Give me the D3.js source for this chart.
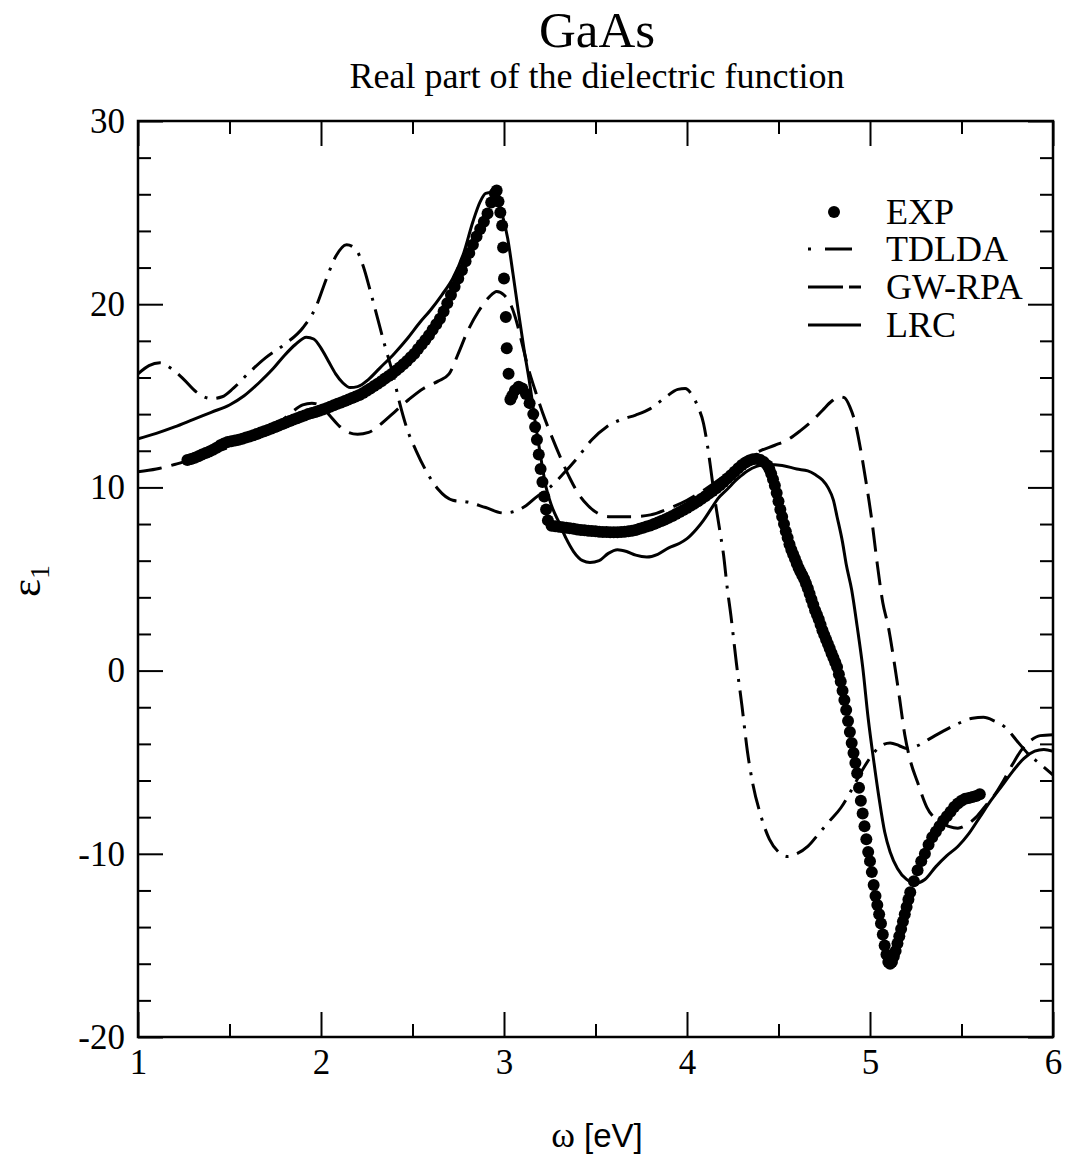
<!DOCTYPE html>
<html><head><meta charset="utf-8">
<script src="https://cdn.jsdelivr.net/npm/d3@7"></script>
<style>
body{margin:0;background:#fff;}
svg{display:block;}
</style></head>
<body>
<svg id="chart" width="1068" height="1165"></svg>
<script>
// ---------- data ----------
const title = "GaAs";
const subtitle = "Real part of the dielectric function";
const xTicks = [1, 2, 3, 4, 5, 6];
const yTicks = [-20, -10, 0, 10, 20, 30];
const seriesNames = ["EXP", "TDLDA", "GW-RPA", "LRC"];

const expData = [
[1.27,11.5],[1.29,11.55],[1.31,11.62],[1.33,11.7],[1.35,11.8],[1.37,11.88],[1.39,11.96],[1.41,12.05],[1.43,12.17],[1.45,12.3],
[1.47,12.4],[1.49,12.48],[1.51,12.52],[1.53,12.56],[1.55,12.6],[1.57,12.65],[1.59,12.72],[1.61,12.78],[1.63,12.85],[1.65,12.92],
[1.67,13.0],[1.69,13.07],[1.71,13.14],[1.73,13.22],[1.75,13.3],[1.77,13.38],[1.79,13.46],[1.81,13.54],[1.83,13.62],[1.85,13.7],
[1.87,13.78],[1.89,13.86],[1.91,13.93],[1.93,14.0],[1.95,14.06],[1.97,14.12],[1.99,14.18],[2.01,14.25],[2.03,14.32],[2.05,14.4],
[2.07,14.48],[2.09,14.56],[2.11,14.64],[2.13,14.72],[2.15,14.8],[2.17,14.88],[2.19,14.96],[2.21,15.05],[2.23,15.15],[2.25,15.27],
[2.27,15.4],[2.29,15.53],[2.31,15.66],[2.33,15.8],[2.35,15.94],[2.37,16.08],[2.39,16.22],[2.41,16.38],[2.43,16.55],[2.45,16.72],
[2.47,16.9],[2.49,17.1],[2.51,17.3],[2.53,17.55],[2.55,17.8],[2.57,18.05],[2.59,18.3],[2.61,18.6],[2.63,18.9],[2.65,19.2],
[2.67,19.6],[2.69,20.05],[2.71,20.5],[2.73,20.95],[2.75,21.4],[2.77,21.85],[2.79,22.35],[2.81,22.8],[2.83,23.25],[2.85,23.7],
[2.87,24.1],[2.89,24.5],[2.91,24.95],[2.93,25.55],[2.95,26.05],[2.96,26.2],
[2.97,25.6],[2.98,25.0],[2.99,24.3],[2.995,23.1],[3.0,21.4],[3.01,19.3],[3.015,17.6],[3.025,16.2],[3.035,14.8],
[3.045,15.0],[3.06,15.3],[3.08,15.5],[3.10,15.4],[3.12,15.1],[3.14,14.6],[3.16,14.0],[3.17,13.3],[3.18,12.6],[3.19,11.8],
[3.20,11.0],[3.21,10.3],[3.22,9.5],[3.23,8.8],[3.24,8.2],[3.26,7.9],
[3.28,7.88],[3.30,7.85],[3.32,7.82],[3.34,7.8],[3.36,7.77],[3.38,7.74],[3.40,7.7],[3.42,7.68],[3.44,7.66],[3.46,7.64],
[3.48,7.62],[3.50,7.6],[3.52,7.58],[3.54,7.57],[3.56,7.56],[3.58,7.55],[3.60,7.55],[3.62,7.55],[3.64,7.56],[3.66,7.58],
[3.68,7.6],[3.70,7.63],[3.72,7.68],[3.74,7.74],[3.76,7.8],[3.78,7.86],[3.80,7.92],[3.82,8.0],[3.84,8.08],[3.86,8.16],
[3.88,8.25],[3.90,8.34],[3.92,8.44],[3.94,8.55],[3.96,8.66],[3.98,8.77],[4.00,8.88],[4.02,9.0],[4.04,9.12],[4.06,9.25],
[4.08,9.38],[4.10,9.52],[4.12,9.66],[4.14,9.8],[4.16,9.96],[4.18,10.12],[4.20,10.3],[4.22,10.48],[4.24,10.66],[4.26,10.85],
[4.28,11.05],[4.30,11.22],[4.32,11.36],[4.34,11.47],[4.36,11.54],[4.38,11.56],[4.40,11.5],[4.42,11.38],[4.44,11.2],[4.45,11.0],
[4.46,10.75],[4.47,10.45],[4.48,10.1],[4.49,9.7],[4.50,9.25],[4.51,8.8],[4.52,8.4],[4.53,8.0],[4.54,7.6],[4.55,7.25],
[4.56,6.9],[4.57,6.6],[4.58,6.35],[4.59,6.1],[4.60,5.85],[4.61,5.6],[4.62,5.4],[4.63,5.2],[4.64,5.0],[4.65,4.75],
[4.66,4.5],[4.67,4.2],[4.68,3.9],[4.69,3.6],[4.70,3.3],[4.71,3.05],[4.72,2.8],[4.73,2.5],[4.74,2.2],[4.75,1.95],
[4.76,1.7],[4.77,1.45],[4.78,1.2],[4.79,0.95],[4.80,0.7],[4.81,0.45],[4.82,0.2],[4.83,-0.2],[4.84,-0.6],[4.85,-1.1],
[4.86,-1.6],[4.87,-2.15],[4.88,-2.75],[4.89,-3.35],[4.90,-3.95],[4.91,-4.5],[4.92,-5.05],[4.93,-5.6],[4.94,-6.4],[4.95,-7.1],
[4.96,-7.8],[4.97,-8.5],[4.98,-9.2],[4.99,-9.9],[5.00,-10.4],[5.01,-11.0],[5.02,-11.7],[5.03,-12.3],[5.04,-12.8],[5.05,-13.3],
[5.06,-13.8],[5.07,-14.4],[5.08,-15.0],[5.09,-15.5],[5.10,-15.9],[5.11,-16.0],[5.12,-15.9],[5.13,-15.6],[5.14,-15.3],[5.15,-14.9],
[5.16,-14.5],[5.17,-14.1],[5.18,-13.7],[5.19,-13.3],[5.20,-12.9],[5.21,-12.5],[5.22,-12.1],[5.24,-11.5],[5.26,-10.9],[5.28,-10.4],
[5.30,-10.0],[5.32,-9.5],[5.34,-9.1],[5.36,-8.8],[5.38,-8.5],[5.40,-8.2],[5.42,-7.95],[5.44,-7.7],[5.46,-7.45],[5.48,-7.25],
[5.50,-7.1],[5.52,-7.0],[5.54,-6.95],[5.56,-6.9],[5.58,-6.85],[5.60,-6.75]
];

const tdldaData = [
[1.00,16.2],[1.06,16.65],[1.12,16.8],[1.18,16.5],[1.25,15.9],[1.32,15.2],[1.40,14.85],[1.46,14.95],[1.52,15.4],[1.60,16.2],
[1.70,17.1],[1.80,17.8],[1.90,18.7],[1.97,19.8],[2.03,21.4],[2.08,22.6],[2.14,23.25],[2.19,23.0],[2.23,22.1],[2.27,20.7],
[2.31,19.2],[2.35,17.7],[2.39,16.3],[2.43,14.6],[2.47,13.2],[2.52,12.0],[2.58,10.8],[2.64,9.9],[2.72,9.3],[2.80,9.2],
[2.90,8.9],[3.00,8.6],[3.06,8.7],[3.12,9.0],[3.18,9.5],[3.25,10.0],[3.32,10.7],[3.40,11.6],[3.48,12.6],[3.56,13.3],
[3.64,13.7],[3.72,13.95],[3.80,14.3],[3.88,14.9],[3.95,15.35],[3.99,15.4],[4.03,15.0],[4.06,14.4],[4.09,13.5],[4.11,12.4],
[4.13,11.0],[4.15,9.5],[4.18,7.6],[4.20,6.3],[4.22,4.5],[4.24,3.0],[4.27,0.4],[4.30,-1.9],[4.33,-4.4],[4.36,-6.2],
[4.40,-7.8],[4.45,-9.2],[4.50,-9.9],[4.55,-10.15],[4.60,-10.0],[4.66,-9.6],[4.72,-8.9],[4.78,-8.2],[4.84,-7.5],[4.90,-6.5],
[4.96,-5.4],[5.02,-4.5],[5.07,-4.05],[5.11,-3.95],[5.16,-4.1],[5.20,-4.25],[5.26,-4.1],[5.33,-3.7],[5.40,-3.3],[5.48,-2.9],
[5.56,-2.6],[5.62,-2.55],[5.68,-2.75],[5.74,-3.1],[5.80,-3.8],[5.87,-4.6],[5.93,-5.1],[6.00,-5.7]
];

const gwrpaData = [
[1.00,10.85],[1.10,11.0],[1.20,11.25],[1.30,11.55],[1.40,11.85],[1.50,12.2],[1.60,12.6],[1.70,13.1],[1.78,13.6],[1.84,14.1],
[1.90,14.5],[1.95,14.6],[2.00,14.45],[2.05,13.9],[2.10,13.35],[2.15,13.0],[2.20,12.9],[2.26,13.0],[2.32,13.4],[2.40,14.1],
[2.48,14.8],[2.56,15.4],[2.64,15.8],[2.70,16.2],[2.75,17.3],[2.80,18.5],[2.86,19.6],[2.92,20.4],[2.96,20.7],[3.00,20.5],
[3.04,19.9],[3.07,19.0],[3.10,17.8],[3.13,16.6],[3.17,15.3],[3.21,14.1],[3.26,12.8],[3.31,11.6],[3.36,10.5],[3.41,9.6],
[3.46,9.0],[3.51,8.6],[3.58,8.4],[3.70,8.4],[3.80,8.5],[3.90,8.85],[4.00,9.3],[4.10,9.9],[4.20,10.6],[4.28,11.2],
[4.34,11.7],[4.40,12.0],[4.48,12.3],[4.55,12.6],[4.62,13.1],[4.68,13.6],[4.74,14.2],[4.79,14.7],[4.83,14.95],[4.86,14.9],
[4.89,14.4],[4.92,13.5],[4.95,12.0],[4.98,10.2],[5.01,8.2],[5.04,5.8],[5.07,3.7],[5.10,2.4],[5.13,0.6],[5.16,-1.4],
[5.19,-3.5],[5.22,-4.9],[5.26,-6.1],[5.31,-7.45],[5.37,-8.2],[5.43,-8.5],[5.48,-8.6],[5.53,-8.4],[5.58,-8.0],[5.63,-7.4],
[5.68,-6.8],[5.73,-6.0],[5.78,-5.1],[5.83,-4.3],[5.88,-3.8],[5.93,-3.55],[6.00,-3.5]
];

const lrcData = [
[1.00,12.65],[1.10,12.95],[1.20,13.3],[1.30,13.7],[1.40,14.1],[1.50,14.5],[1.58,15.0],[1.66,15.7],[1.74,16.5],[1.80,17.2],
[1.86,17.8],[1.92,18.2],[1.96,18.1],[2.00,17.6],[2.04,16.9],[2.08,16.2],[2.12,15.7],[2.16,15.45],[2.20,15.5],[2.26,15.9],
[2.32,16.5],[2.40,17.3],[2.47,18.1],[2.54,19.0],[2.60,19.7],[2.66,20.5],[2.72,21.4],[2.78,22.8],[2.83,24.5],[2.87,25.6],
[2.90,26.05],[2.93,26.1],[2.96,25.8],[2.99,24.9],[3.02,23.6],[3.05,21.6],[3.08,19.5],[3.11,17.5],[3.14,15.7],[3.17,13.6],
[3.20,11.7],[3.23,10.0],[3.26,9.0],[3.30,8.1],[3.34,7.2],[3.38,6.5],[3.43,6.0],[3.47,5.9],[3.52,6.0],[3.57,6.4],
[3.62,6.6],[3.67,6.5],[3.72,6.3],[3.78,6.2],[3.84,6.35],[3.90,6.7],[3.96,6.95],[4.00,7.2],[4.05,7.7],[4.09,8.2],
[4.13,8.8],[4.17,9.4],[4.22,9.9],[4.28,10.5],[4.33,10.9],[4.38,11.15],[4.44,11.25],[4.52,11.2],[4.60,11.0],[4.66,10.9],
[4.70,10.7],[4.74,10.4],[4.77,10.0],[4.80,9.3],[4.82,8.4],[4.85,7.0],[4.87,5.8],[4.90,4.4],[4.93,2.4],[4.96,0.2],
[4.99,-2.6],[5.02,-4.9],[5.05,-7.0],[5.08,-8.8],[5.11,-9.9],[5.15,-10.8],[5.20,-11.4],[5.25,-11.6],[5.30,-11.4],[5.36,-10.7],
[5.42,-10.1],[5.48,-9.6],[5.54,-8.9],[5.60,-8.0],[5.66,-7.1],[5.72,-6.3],[5.78,-5.5],[5.84,-4.8],[5.90,-4.4],[5.95,-4.3],
[6.00,-4.4]
];

// ---------- layout ----------
const svg = d3.select("#chart");
const X0 = 138, X1 = 1053, Y0 = 121, Y1 = 1037;
const serif = "'Liberation Serif','Times New Roman',Times,serif";
const sans = "'Liberation Sans',Arial,Helvetica,sans-serif";

const x = d3.scaleLinear().domain([1, 6]).range([X0, X1]);
const y = d3.scaleLinear().domain([-20, 30]).range([Y1, Y0]);

const xMinor = d3.range(1, 6.01, 0.5).filter(v => Math.abs(v - Math.round(v)) > 1e-6);
const yMinor = d3.range(-20, 30.01, 2).filter(v => v % 10 !== 0);
const plainFmt = d => String(d);

function styleAxis(g, fs) {
  g.select(".domain").remove();
  g.selectAll(".tick line").attr("stroke", "#000").attr("stroke-width", 2);
  g.selectAll(".tick text").attr("font-family", serif).attr("font-size", fs).attr("fill", "#000");
}

// bottom
svg.append("g").attr("transform", `translate(0,${Y1})`)
  .call(d3.axisBottom(x).tickValues(xTicks).tickSize(-25).tickSizeOuter(0).tickPadding(12).tickFormat(plainFmt))
  .call(g => styleAxis(g, 35));
svg.append("g").attr("transform", `translate(0,${Y1})`)
  .call(d3.axisBottom(x).tickValues(xMinor).tickSize(-13).tickSizeOuter(0).tickFormat(""))
  .call(g => styleAxis(g, 35));
// top
svg.append("g").attr("transform", `translate(0,${Y0})`)
  .call(d3.axisTop(x).tickValues(xTicks).tickSize(-25).tickSizeOuter(0).tickFormat(""))
  .call(g => styleAxis(g, 35));
svg.append("g").attr("transform", `translate(0,${Y0})`)
  .call(d3.axisTop(x).tickValues(xMinor).tickSize(-13).tickSizeOuter(0).tickFormat(""))
  .call(g => styleAxis(g, 35));
// left
svg.append("g").attr("transform", `translate(${X0},0)`)
  .call(d3.axisLeft(y).tickValues(yTicks).tickSize(-25).tickSizeOuter(0).tickPadding(13).tickFormat(plainFmt))
  .call(g => styleAxis(g, 35));
svg.append("g").attr("transform", `translate(${X0},0)`)
  .call(d3.axisLeft(y).tickValues(yMinor).tickSize(-13).tickSizeOuter(0).tickFormat(""))
  .call(g => styleAxis(g, 35));
// right
svg.append("g").attr("transform", `translate(${X1},0)`)
  .call(d3.axisRight(y).tickValues(yTicks).tickSize(-25).tickSizeOuter(0).tickFormat(""))
  .call(g => styleAxis(g, 35));
svg.append("g").attr("transform", `translate(${X1},0)`)
  .call(d3.axisRight(y).tickValues(yMinor).tickSize(-13).tickSizeOuter(0).tickFormat(""))
  .call(g => styleAxis(g, 35));

// frame
svg.append("rect").attr("x", X0).attr("y", Y0).attr("width", X1 - X0).attr("height", Y1 - Y0)
  .attr("fill", "none").attr("stroke", "#000").attr("stroke-width", 2.5);

// clip
svg.append("clipPath").attr("id", "clip").append("rect")
  .attr("x", X0).attr("y", Y0).attr("width", X1 - X0).attr("height", Y1 - Y0);
const plot = svg.append("g").attr("clip-path", "url(#clip)");

const line = d3.line().x(d => x(d[0])).y(d => y(d[1])).curve(d3.curveMonotoneX);

plot.append("path").datum(tdldaData).attr("d", line).attr("fill", "none")
  .attr("stroke", "#000").attr("stroke-width", 3).attr("stroke-dasharray", "26,9,3,9");
plot.append("path").datum(gwrpaData).attr("d", line).attr("fill", "none")
  .attr("stroke", "#000").attr("stroke-width", 3).attr("stroke-dasharray", "24,10");
plot.append("path").datum(lrcData).attr("d", line).attr("fill", "none")
  .attr("stroke", "#000").attr("stroke-width", 3);
plot.selectAll("circle.exp").data(expData).enter().append("circle")
  .attr("class", "exp").attr("cx", d => x(d[0])).attr("cy", d => y(d[1])).attr("r", 6).attr("fill", "#000");

// legend
const lg = svg.append("g");
const legY = [212, 249, 287, 325];
seriesNames.forEach((name, i) => {
  const cy = legY[i];
  if (name === "EXP") {
    lg.append("circle").attr("cx", 834).attr("cy", cy).attr("r", 6).attr("fill", "#000");
  } else {
    lg.append("line").attr("x1", 808).attr("x2", 861).attr("y1", cy).attr("y2", cy)
      .attr("stroke", "#000").attr("stroke-width", 3)
      .attr("stroke-dasharray", name === "TDLDA" ? "3,14,27,10" : (name === "GW-RPA" ? "35,6,14,10" : null));
  }
  lg.append("text").attr("x", 886).attr("y", cy + 12).attr("font-family", serif).attr("font-size", 36)
    .attr("fill", "#000").text(name);
});

// titles
svg.append("text").attr("x", 597).attr("y", 47).attr("text-anchor", "middle")
  .attr("font-family", serif).attr("font-size", 51).attr("fill", "#000").text(title);
svg.append("text").attr("x", 597).attr("y", 88).attr("text-anchor", "middle")
  .attr("font-family", serif).attr("font-size", 36).attr("fill", "#000").text(subtitle);

// x label
const xl = svg.append("text").attr("x", 597).attr("y", 1147).attr("text-anchor", "middle")
  .attr("font-family", sans).attr("font-size", 33).attr("fill", "#000");
xl.append("tspan").attr("font-family", serif).attr("font-size", 36).text("ω");
xl.append("tspan").text(" [eV]");

// y label
const yl = svg.append("text").attr("transform", "translate(40,597) rotate(-90)")
  .attr("text-anchor", "start").attr("font-family", serif).attr("font-size", 43).attr("fill", "#000");
yl.append("tspan").text("ε");
yl.append("tspan").attr("font-size", 28).attr("dy", 9).text("1");
</script>
</body></html>
